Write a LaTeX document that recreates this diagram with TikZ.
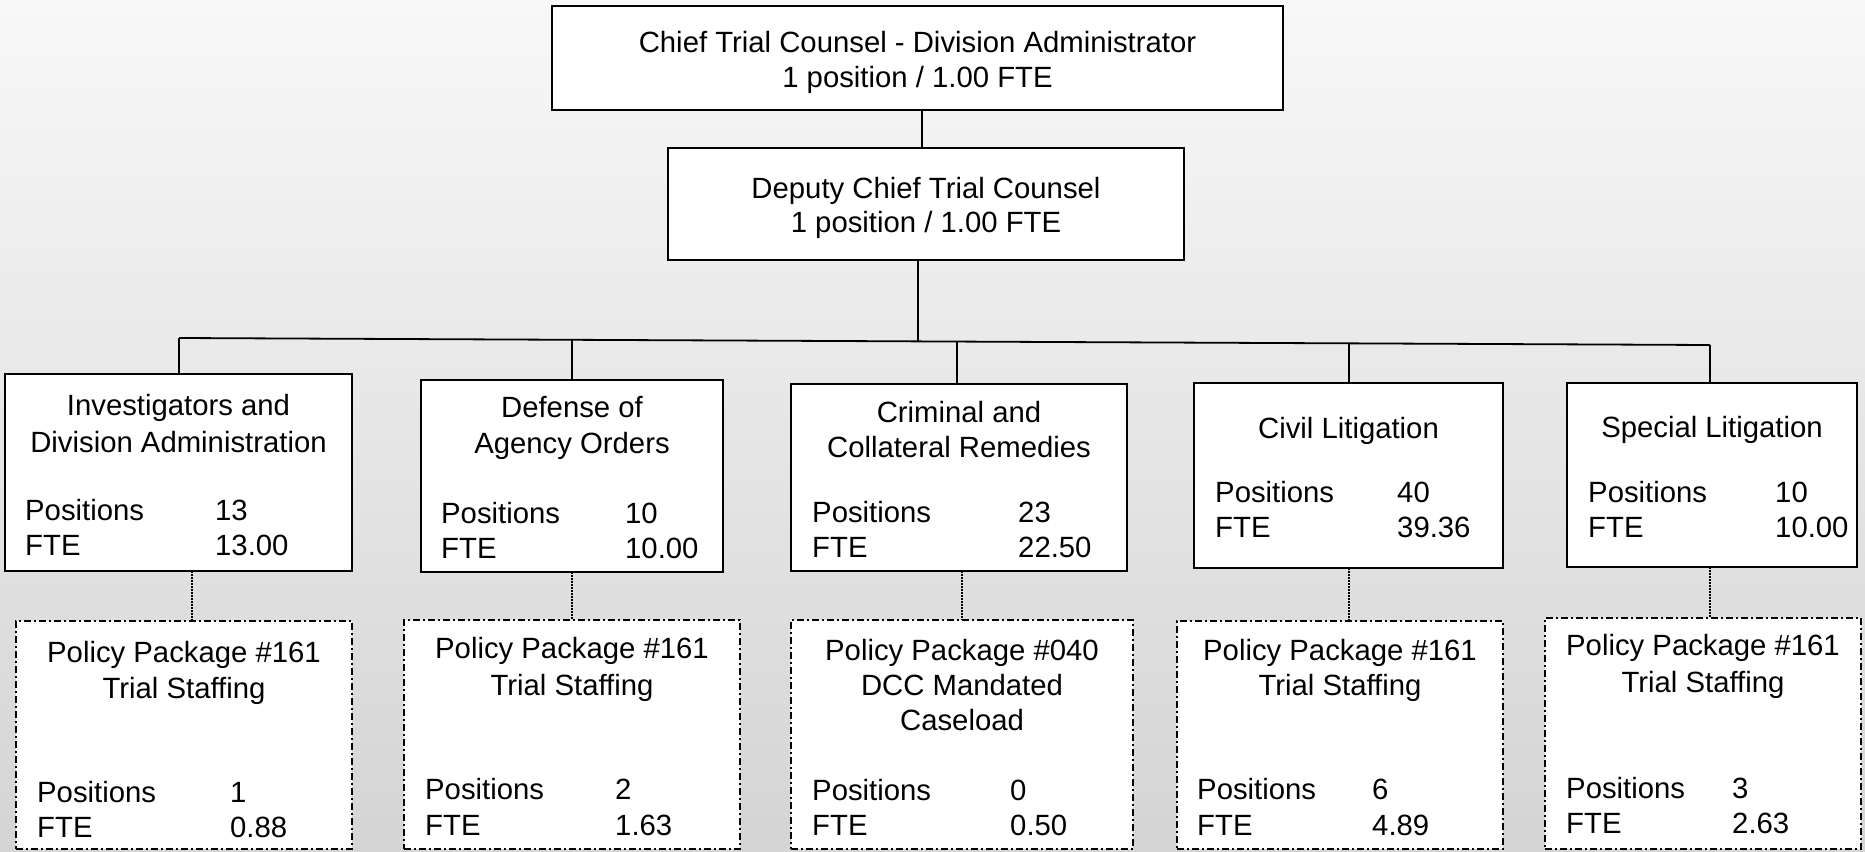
\documentclass[tikz,border=0pt]{standalone}
\usepackage{fontspec}
\setmainfont{Liberation Sans}
\usetikzlibrary{fit}
\definecolor{bgtop}{HTML}{F8F8F8}
\definecolor{bgbot}{HTML}{D4D4D4}
\newcommand\orgfs{\fontsize{29.3}{35}\selectfont}
\begin{document}
\begin{tikzpicture}[x=1pt,y=-1pt,
  solidbox/.style={draw=black, line width=2.4pt, fill=white, inner sep=0pt, outer sep=0pt},
  dashbox/.style={draw=black, line width=1.6pt, fill=white, inner sep=0pt, outer sep=0pt,
                  dash pattern=on 7pt off 3pt on 2pt off 3pt},
  lbl/.style={inner sep=0pt, font=\orgfs, anchor=base},
  lblw/.style={inner sep=0pt, font=\orgfs, anchor=base west},
  conn/.style={line width=1.8pt},
  dotconn/.style={line width=1.5pt, dash pattern=on 1.5pt off 1.5pt}]
\shade[top color=bgtop, bottom color=bgbot] (0,0) rectangle (1865,851);
\useasboundingbox (0,0) rectangle (1865,851);

% top boxes
\node[solidbox, fit={(552,6) (1283,110)}] (chief) {};
\node[lbl] (chiefA) at (917.5,52.5) {Chief Trial Counsel - Division Administrator};
\node[lbl] (chiefB) at (917.5,87.5) {1 position / 1.00 FTE};

\node[solidbox, fit={(668,148) (1184,260)}] (dep) {};
\node[lbl] (depA) at (926,198.5) {Deputy Chief Trial Counsel};
\node[lbl] (depB) at (926,232.5) {1 position / 1.00 FTE};

% division boxes
\node[solidbox, fit={(5,374) (352,571)}] (b1) {};
\node[lbl] (b1a) at (178.5,415.5) {Investigators and};
\node[lbl] (b1b) at (178.5,452.5) {Division Administration};
\node[lblw] (b1p) at (25,520.5) {Positions};
\node[lblw] (b1pn) at (215,520.5) {13};
\node[lblw] (b1f) at (25,555.5) {FTE};
\node[lblw] (b1fn) at (215,555.5) {13.00};

\node[solidbox, fit={(421,380) (723,572)}] (b2) {};
\node[lbl] (b2a) at (572,417.5) {Defense of};
\node[lbl] (b2b) at (572,453.5) {Agency Orders};
\node[lblw] (b2p) at (441,523.5) {Positions};
\node[lblw] (b2pn) at (625,523.5) {10};
\node[lblw] (b2f) at (441,558.5) {FTE};
\node[lblw] (b2fn) at (625,558.5) {10.00};

\node[solidbox, fit={(791,384) (1127,571)}] (b3) {};
\node[lbl] (b3a) at (959,422.5) {Criminal and};
\node[lbl] (b3b) at (959,457.5) {Collateral Remedies};
\node[lblw] (b3p) at (812,522.5) {Positions};
\node[lblw] (b3pn) at (1018,522.5) {23};
\node[lblw] (b3f) at (812,557.5) {FTE};
\node[lblw] (b3fn) at (1018,557.5) {22.50};

\node[solidbox, fit={(1194,383) (1503,568)}] (b4) {};
\node[lbl] (b4a) at (1348.5,438.5) {Civil Litigation};
\node[lblw] (b4p) at (1215,502.5) {Positions};
\node[lblw] (b4pn) at (1397,502.5) {40};
\node[lblw] (b4f) at (1215,537.5) {FTE};
\node[lblw] (b4fn) at (1397,537.5) {39.36};

\node[solidbox, fit={(1567,383) (1857,567)}] (b5) {};
\node[lbl] (b5a) at (1712,437.5) {Special Litigation};
\node[lblw] (b5p) at (1588,502.5) {Positions};
\node[lblw] (b5pn) at (1775,502.5) {10};
\node[lblw] (b5f) at (1588,537.5) {FTE};
\node[lblw] (b5fn) at (1775,537.5) {10.00};

% policy package boxes
\node[dashbox, fit={(16,621) (352,849)}] (d1) {};
\node[lbl] (d1a) at (184,662.5) {Policy Package \#161};
\node[lbl] (d1b) at (184,698.5) {Trial Staffing};
\node[lblw] (d1p) at (37,802.5) {Positions};
\node[lblw] (d1pn) at (230,802.5) {1};
\node[lblw] (d1f) at (37,837.5) {FTE};
\node[lblw] (d1fn) at (230,837.5) {0.88};

\node[dashbox, fit={(404,620) (740,849)}] (d2) {};
\node[lbl] (d2a) at (572,658.5) {Policy Package \#161};
\node[lbl] (d2b) at (572,695.5) {Trial Staffing};
\node[lblw] (d2p) at (425,799.5) {Positions};
\node[lblw] (d2pn) at (615,799.5) {2};
\node[lblw] (d2f) at (425,835.5) {FTE};
\node[lblw] (d2fn) at (615,835.5) {1.63};

\node[dashbox, fit={(791,620) (1133,849)}] (d3) {};
\node[lbl] (d3a) at (962,660.5) {Policy Package \#040};
\node[lbl] (d3b) at (962,695.5) {DCC Mandated};
\node[lbl] (d3c) at (962,730.5) {Caseload};
\node[lblw] (d3p) at (812,800.5) {Positions};
\node[lblw] (d3pn) at (1010,800.5) {0};
\node[lblw] (d3f) at (812,835.5) {FTE};
\node[lblw] (d3fn) at (1010,835.5) {0.50};

\node[dashbox, fit={(1177,621) (1503,849)}] (d4) {};
\node[lbl] (d4a) at (1340,660.5) {Policy Package \#161};
\node[lbl] (d4b) at (1340,695.5) {Trial Staffing};
\node[lblw] (d4p) at (1197,799.5) {Positions};
\node[lblw] (d4pn) at (1372,799.5) {6};
\node[lblw] (d4f) at (1197,835.5) {FTE};
\node[lblw] (d4fn) at (1372,835.5) {4.89};

\node[dashbox, fit={(1545,618) (1861,849)}] (d5) {};
\node[lbl] (d5a) at (1703,655.5) {Policy Package \#161};
\node[lbl] (d5b) at (1703,692.5) {Trial Staffing};
\node[lblw] (d5p) at (1566,798.5) {Positions};
\node[lblw] (d5pn) at (1732,798.5) {3};
\node[lblw] (d5f) at (1566,833.5) {FTE};
\node[lblw] (d5fn) at (1732,833.5) {2.63};

% bus coordinates
\coordinate (bus1) at (179,338);
\coordinate (bus2) at (572,339.8);
\coordinate (busd) at (918,341.4);
\coordinate (bus3) at (957,341.6);
\coordinate (bus4) at (1349,343.3);
\coordinate (bus5) at (1710,345);

% connectors
\draw[conn] ([xshift=4.5pt]chief.south) -- ([xshift=4.5pt]chief.south |- dep.north);
\draw[conn] ([xshift=-8pt]dep.south) -- (busd);
\draw[conn] (bus1) -- (bus5);
\draw[conn] (bus1) -- (bus1 |- b1.north);
\draw[conn] (bus2) -- (bus2 |- b2.north);
\draw[conn] (bus3) -- (bus3 |- b3.north);
\draw[conn] (bus4) -- (bus4 |- b4.north);
\draw[conn] (bus5) -- (bus5 |- b5.north);

\draw[dotconn] ([xshift=13.5pt]b1.south) -- ([xshift=13.5pt]b1.south |- d1.north);
\draw[dotconn] (b2.south) -- (d2.north);
\draw[dotconn] (d3.north |- b3.south) -- (d3.north);
\draw[dotconn] ([xshift=0.5pt]b4.south) -- ([xshift=0.5pt]b4.south |- d4.north);
\draw[dotconn] ([xshift=-2pt]b5.south) -- ([xshift=-2pt]b5.south |- d5.north);
\end{tikzpicture}
\end{document}
